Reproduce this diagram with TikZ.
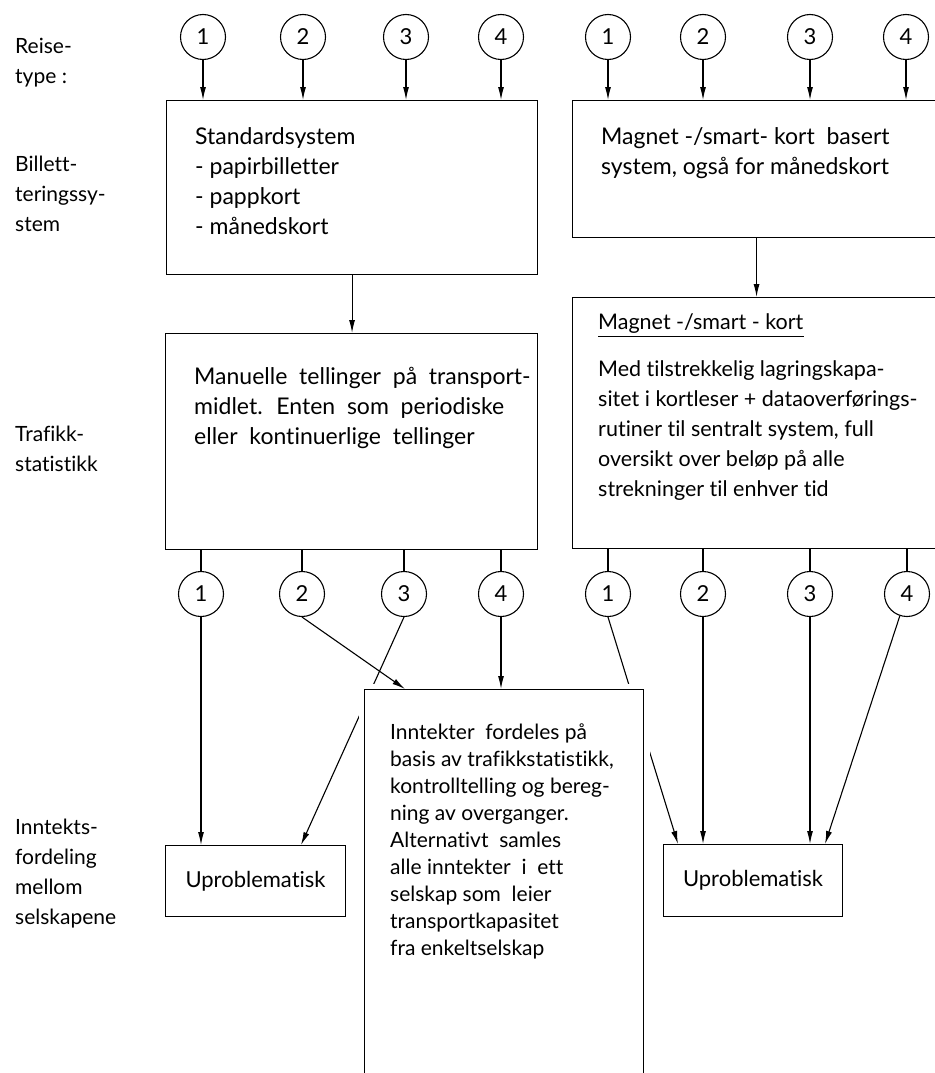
\documentclass[tikz,border=0pt]{standalone}
\usepackage{fontspec}
\setmainfont{Lato}[Ligatures=NoCommon]
\usetikzlibrary{arrows.meta,calc}

\tikzset{
  lin/.style={line width=1.1pt},
  pil/.style={lin, -{Latex[length=13pt,width=6pt]}},
  box/.style={draw, lin, anchor=north west, inner sep=0pt, font=\fontsize{22}{22}\selectfont},
  halo/.style={box, fill=white, preaction={draw=white, line width=12pt}},
  nr/.style={draw, lin, circle, minimum size=45pt, inner sep=0pt, font=\fontsize{22}{22}\selectfont},
  lbl/.style={anchor=north west, inner sep=0pt, align=left, font=\fontsize{21}{30}\selectfont},
  txt/.style={lbl, font=\fontsize{23}{30}\selectfont},
  mdtxt/.style={lbl, font=\fontsize{21.5}{30}\selectfont},
  smtxt/.style={lbl, font=\fontsize{21}{27}\selectfont},
}

\begin{document}
\begin{tikzpicture}[x=1pt,y=-1pt]
%%%%% START %%%%%
\def\ytop{37}
\def\ybot{594}
\useasboundingbox (0,0) rectangle (934,1073);

% row labels
\node[lbl] (lreise) at (15,38) {Reise-\\type :};
\node[lbl] (lbill) at (15,156) {Billett-\\teringssy-\\stem};
\node[lbl] (ltraf) at (15,426) {Trafikk-\\statistikk};
\node[lbl] (linnt) at (15,819) {Inntekts-\\fordeling\\mellom\\selskapene};

% travel type circles
\foreach \n/\x/\d in {1/203/1,2/303/2,3/406/3,4/501/4,5/608/1,6/703/2,7/810/3,8/906/4}
  \node[nr] (t\n) at (\x,\ytop) {\d};
\foreach \n/\x/\d in {1/201/1,2/302/2,3/404/3,4/501/4,5/608/1,6/703/2,7/810/3,8/907/4}
  \node[nr] (b\n) at (\x,\ybot) {\d};

% boxes
\node[box, minimum width=371pt, minimum height=174pt] (std) at (166,100) {};
\node[box, minimum width=368pt, minimum height=137pt] (mag) at (572,100) {};
\node[box, minimum width=372pt, minimum height=216pt] (man) at (165,333) {};
\node[box, minimum width=368pt, minimum height=251pt] (magk) at (572,297) {};
\node[box, minimum width=180pt, minimum height=71pt] (upl) at (165,845) {Uproblematisk\hspace{14pt}};
\node[box, minimum width=179pt, minimum height=72pt] (upr) at (663,844) {Uproblematisk\hspace{14pt}};

% box texts
\node[txt] (stdtxt) at (195,127) {Standardsystem\\- papirbilletter\\- pappkort\\- månedskort};
\node[txt] (magtxt) at (601,127) {Magnet -/smart- kort \ basert\\system, også for månedskort};
\node[txt] (mantxt) at (194,367) {Manuelle \ tellinger \ på \ transport-\\midlet. \ Enten \ som \ periodiske\\eller \ kontinuerlige \ tellinger};
\node[mdtxt] (magtit) at (598,313) {Magnet -/smart - kort};
\draw[lin] ([yshift=-3pt]magtit.south west) -- ([yshift=-3pt]magtit.south east);
\node[mdtxt] (magktxt) at (598,360) {Med tilstrekkelig lagringskapa-\\sitet i kortleser + dataoverførings-\\rutiner til sentralt system, full\\oversikt over beløp på alle\\strekninger til enhver tid};

% arrows in
\foreach \n in {1,2,3,4}
  \draw[pil] (t\n.south) -- (t\n.south |- std.north);
\foreach \n in {5,6,7,8}
  \draw[pil] (t\n.south) -- (t\n.south |- mag.north);
\draw[pil] (std.south) -- (std.south |- man.north);
\draw[pil] (mag.south) -- (mag.south |- magk.north);

% stubs to the lower circles
\foreach \n in {1,2,3,4}
  \draw[lin] (b\n.north |- man.south) -- (b\n.north);
\foreach \n in {5,6,7,8}
  \draw[lin] (b\n.north |- magk.south) -- (b\n.north);

% lines passing behind the middle box
\draw[pil] (b3.south) -- ($(upl.north west)+(136,0)$);
\draw[pil] (b5.south) -- ($(upr.north west)+(15,0)$);

% middle box
\node[halo, minimum width=279pt, minimum height=400pt] (innt) at (364,689) {};
\node[smtxt] (innttxt) at (390,724) {Inntekter \ fordeles på\\basis av trafikkstatistikk,\\kontrolltelling og bereg-\\ning av overganger.\\Alternativt \ samles\\alle inntekter \ i \ ett\\selskap som \ leier\\transportkapasitet\\fra enkeltselskap};

% arrows out
\draw[pil] (b1.south) -- (b1.south |- upl.north);
\draw[pil] (b2.south) -- ($(innt.north west)+(41,0)$);
\draw[pil] (b4.south) -- (b4.south |- innt.north);
\draw[pil] (b6.south) -- (b6.south |- upr.north);
\draw[pil] (b7.south) -- (b7.south |- upr.north);
\draw[pil] (b8) -- ($(upr.north west)+(162,0)$);
%%%%% END %%%%%
\end{tikzpicture}
\end{document}
